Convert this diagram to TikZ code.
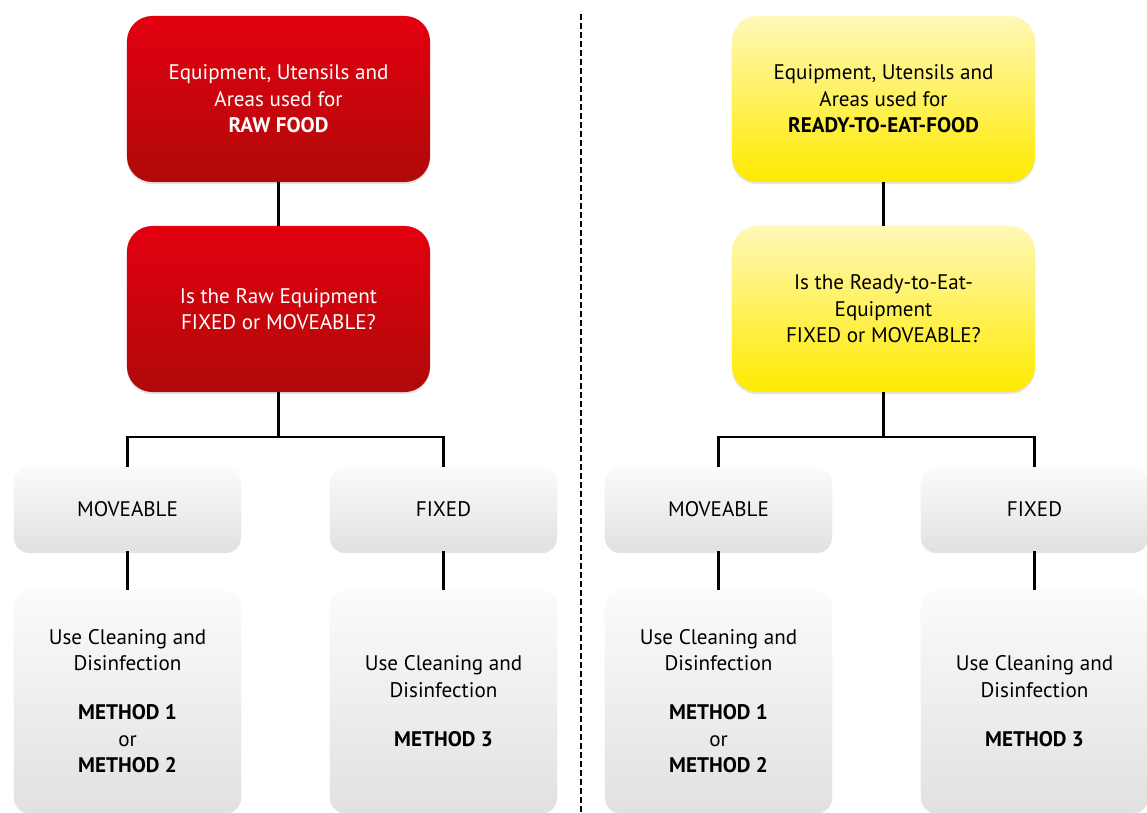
\documentclass[tikz,border=0pt]{standalone}
\usepackage{fontspec}
\setmainfont{PT Sans}
\usetikzlibrary{shadows,positioning}
\definecolor{rawtop}{HTML}{E3000F}
\definecolor{rawbot}{HTML}{B00A0A}
\definecolor{rtetop}{HTML}{FFF8B8}
\definecolor{rtebot}{HTML}{FFEA00}
\definecolor{greytop}{HTML}{FBFBFB}
\definecolor{greybot}{HTML}{E1E1E1}

\tikzset{
	box/.style={align=center, inner sep=0pt, font=\fontsize{15}{18.8}\selectfont,
		drop shadow={opacity=.22, shadow xshift=0pt, shadow yshift=-1.5pt}},
	bigbox/.style={box, rounded corners=18pt, minimum width=7.575cm, minimum height=4.15cm},
	rawbox/.style={bigbox, top color=rawtop, bottom color=rawbot, text=white},
	rtebox/.style={bigbox, top color=rtetop, bottom color=rtebot},
	kindbox/.style={box, rounded corners=11pt, top color=greytop, bottom color=greybot,
		minimum width=5.675cm, minimum height=2.1cm},
	methbox/.style={box, rounded corners=11pt, top color=greytop, bottom color=greybot,
		minimum width=5.675cm, minimum height=5.525cm},
	link/.style={line width=1.6pt}
}

\begin{document}
\begin{tikzpicture}[x=0.025cm, y=-0.025cm]
\useasboundingbox (0,0) rectangle (1147,812);

% raw food side
\node[rawbox] (raw) at (278.5,99) {Equipment, Utensils and\\Areas used for\\\textbf{RAW FOOD}};
\node[rawbox] (rawq) at (278.5,309) {Is the Raw Equipment\\FIXED or MOVEABLE?};
\node[kindbox] (rawmv) at (127.5,509) {MOVEABLE};
\node[kindbox] (rawfx) at (443.5,509) {FIXED};
\node[methbox] (rawm12) at (127.5,701) {Use Cleaning and\\Disinfection\\[16pt]\textbf{METHOD 1}\\or\\\textbf{METHOD 2}};
\node[methbox] (rawm3) at (443.5,701) {Use Cleaning and\\Disinfection\\[16pt]\textbf{METHOD 3}};

% ready-to-eat side
\node[rtebox] (rte) at (883.5,99) {Equipment, Utensils and\\Areas used for\\\textbf{READY-TO-EAT-FOOD}};
\node[rtebox] (rteq) at (883.5,309) {Is the Ready-to-Eat-\\Equipment\\FIXED or MOVEABLE?};
\node[kindbox] (rtemv) at (718.5,509) {MOVEABLE};
\node[kindbox] (rtefx) at (1034.5,509) {FIXED};
\node[methbox] (rtem12) at (718.5,701) {Use Cleaning and\\Disinfection\\[16pt]\textbf{METHOD 1}\\or\\\textbf{METHOD 2}};
\node[methbox] (rtem3) at (1034.5,701) {Use Cleaning and\\Disinfection\\[16pt]\textbf{METHOD 3}};

\foreach \s in {raw,rte}
{
	\draw[link] (\s.south) -- (\s q.north);
	\draw[link] (\s q.south) -- ++(0,45);
	\draw[link] (\s mv.north) -- ++(0,-30) -| (\s fx.north);
	\draw[link] (\s mv.south) -- (\s m12.north);
	\draw[link] (\s fx.south) -- (\s m3.north);
}

\coordinate (sepa) at (581,14);
\coordinate (sepb) at (581,812);
\draw[line width=1.4pt, dash pattern=on 4.3pt off 2.1pt] (sepa) -- (sepb);

\end{tikzpicture}
\end{document}
